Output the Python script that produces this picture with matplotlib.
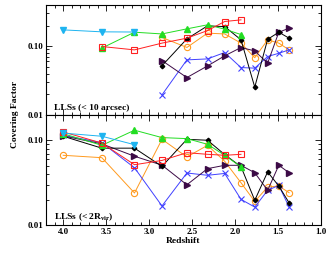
import numpy as np
import matplotlib
matplotlib.use("Agg")
import matplotlib.pyplot as plt
from matplotlib.ticker import MultipleLocator, LogLocator, FixedLocator, NullFormatter

plt.rcParams["font.family"] = ["Liberation Serif", "DejaVu Serif"]
plt.rcParams["font.weight"] = "bold"
plt.rcParams["mathtext.fontset"] = "custom"
plt.rcParams["mathtext.rm"] = "Liberation Serif:bold"
plt.rcParams["mathtext.it"] = "Liberation Serif:bold"

# redshift bins
z = [4.0, 3.55, 3.17, 2.85, 2.56, 2.32, 2.12, 1.93, 1.77, 1.62, 1.49, 1.37]

# top panel: LLSs (< 10 arcsec)
top_cyan = [0.173, 0.162, 0.161]
top_green = [0.094, 0.160, 0.151, 0.179, 0.205, 0.177, 0.148]
top_red = [0.099, 0.0885, 0.111, 0.131, 0.169, 0.229, 0.242]
top_orange = [0.134, 0.096, 0.155, 0.151, 0.111, 0.068, 0.124, 0.111, 0.0885]
top_black = [0.052, 0.128, 0.198, 0.193, 0.124, 0.0254, 0.126, 0.160, 0.131]
top_purple = [0.0618, 0.035, 0.0517, 0.0725, 0.0958, 0.0855, 0.0567, 0.160, 0.183]
top_blue = [0.0196, 0.0633, 0.0654, 0.081, 0.0489, 0.048, 0.0708, 0.079, 0.0885]

# bottom panel: LLSs (< 2 Rvir)
bot_cyan = [0.122, 0.112, 0.089]
bot_red = [0.126, 0.093, 0.0516, 0.058, 0.0716, 0.0685, 0.0667, 0.0685]
bot_green = [0.12, 0.0875, 0.132, 0.108, 0.105, 0.090, 0.0667, 0.0486]
bot_black = [0.112, 0.081, 0.081, 0.0494, 0.103, 0.1005, 0.068, 0.049,
             0.0196, 0.0424, 0.0289, 0.0183]
bot_orange = [0.0667, 0.0625, 0.0239, 0.103, 0.0637, 0.0875, 0.0567, 0.0316,
              0.019, 0.0281, 0.0289, 0.0241]
bot_blue = [0.115, 0.094, 0.0475, 0.0168, 0.0412, 0.0387, 0.0407, 0.0201,
            0.0163, 0.0257, 0.0294, 0.0163]
bot_purple = [0.113, 0.091, 0.065, 0.051, 0.0299, 0.0464, 0.0508, 0.0508,
              0.0415, 0.0257, 0.0508, 0.0415]

c_cyan = "#1EB4F0"
c_green = "#22DD22"
c_red = "#FF2020"
c_orange = "#FF9A1E"
c_purple = "#3C0A46"
c_blue = "#4040FF"

fig = plt.figure(figsize=(3.36, 2.56), dpi=100)
ax1 = fig.add_axes([0.137, 0.551, 0.818, 0.43])
ax2 = fig.add_axes([0.137, 0.121, 0.818, 0.43])

lw = 0.7
ms = 4


def draw(ax, orange, blue, purple, black, green, red, cyan, start):
    n0, n1, n2 = start
    ax.plot(z[n0:n0 + len(orange)], orange, color=c_orange, lw=lw, marker="o",
            ms=ms + 0.5, mfc="none", mew=0.8)
    ax.plot(z[n0:n0 + len(blue)], blue, color=c_blue, lw=lw, marker="x",
            ms=ms, mew=0.8)
    ax.plot(z[n0:n0 + len(purple)], purple, color=c_purple, lw=lw, marker=">",
            ms=ms)
    ax.plot(z[n0:n0 + len(black)], black, color="black", lw=lw, marker="D",
            ms=2.3)
    ax.plot(z[n1:n1 + len(green)], green, color=c_green, lw=lw, marker="^",
            ms=ms)
    ax.plot(z[n1:n1 + len(red)], red, color=c_red, lw=lw, marker="s",
            ms=ms + 0.5, mfc="none", mew=0.8)
    ax.plot(z[n2:n2 + len(cyan)], cyan, color=c_cyan, lw=lw, marker="v",
            ms=ms)


draw(ax1, top_orange, top_blue, top_purple, top_black, top_green, top_red,
     top_cyan, (3, 1, 0))
draw(ax2, bot_orange, bot_blue, bot_purple, bot_black, bot_green, bot_red,
     bot_cyan, (0, 0, 0))

for ax, top in ((ax1, 0.4), (ax2, 0.2)):
    ax.set_yscale("log")
    ax.set_xlim(4.2, 1.0)
    ax.set_ylim(0.01, top)
    ax.xaxis.set_major_locator(MultipleLocator(0.5))
    ax.xaxis.set_minor_locator(MultipleLocator(0.1))
    ax.yaxis.set_major_locator(FixedLocator([0.01, 0.1]))
    ax.yaxis.set_minor_locator(LogLocator(base=10, subs=np.arange(2, 10)))
    ax.yaxis.set_minor_formatter(NullFormatter())
    ax.set_yticklabels(["0.01", "0.10"])
    ax.tick_params(which="both", direction="in", top=True, right=True,
                   labelsize=6.5, width=0.6, pad=2)
    ax.tick_params(which="major", length=4)
    ax.tick_params(which="minor", length=2)
    for s in ax.spines.values():
        s.set_linewidth(0.8)

ax1.tick_params(labelbottom=False)

ax1.text(0.03, 0.07, "LLSs (< 10 arcsec)", transform=ax1.transAxes,
         fontsize=6.8, fontweight="bold", va="center", ha="left")
ax2.text(0.03, 0.075, r"LLSs (< 2R$_{\rm vir}$)", transform=ax2.transAxes,
         fontsize=6.8, fontweight="bold", va="center", ha="left")

ax2.set_xlabel("Redshift", fontsize=6.8, fontweight="bold", labelpad=1)
fig.text(0.045, 0.551, "Covering Factor", rotation=90, fontsize=6.8,
         fontweight="bold", va="center", ha="center")

fig.savefig("out.png", dpi=100)
